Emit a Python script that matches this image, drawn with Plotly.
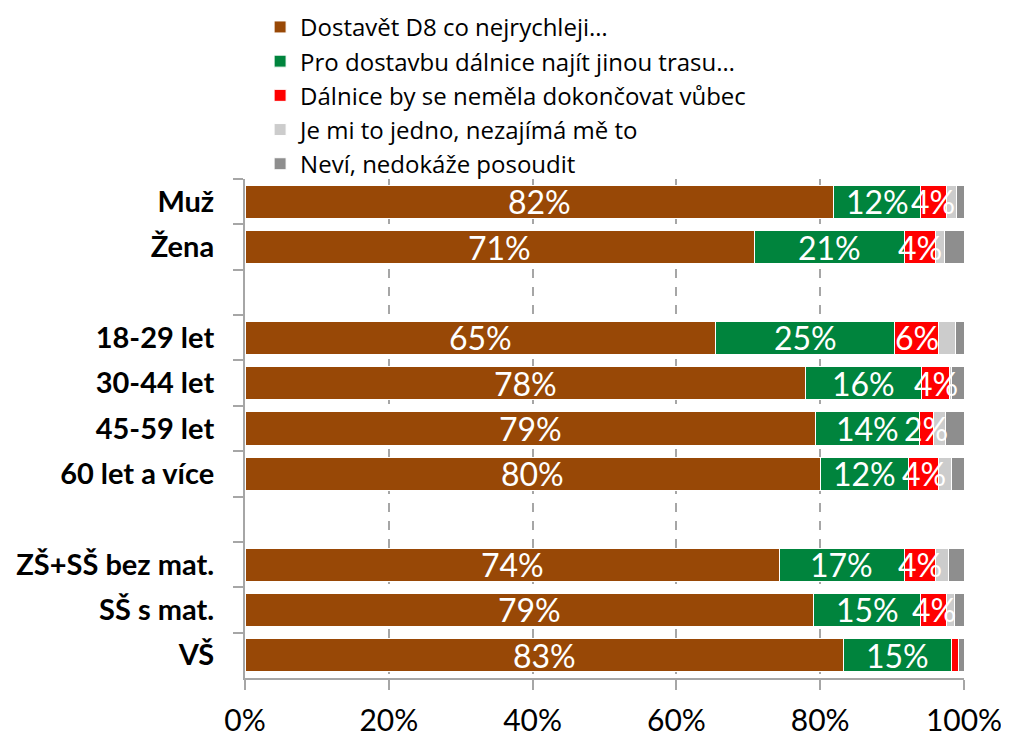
import plotly.graph_objects as go

categories = ["Muž", "Žena", " ", "18-29 let", "30-44 let", "45-59 let", "60 let a více",
              "  ", "ZŠ+SŠ bez mat.", "SŠ s mat.", "VŠ"]

series_names = ["Dostavět D8 co nejrychleji…",
                "Pro dostavbu dálnice najít jinou trasu…",
                "Dálnice by se neměla dokončovat vůbec",
                "Je mi to jedno, nezajímá mě to",
                "Neví, nedokáže posoudit"]

dostavet = [81.8, 70.9, None, 65.4, 78.0, 79.3, 80.1, None, 74.3, 79.1, 83.2]
jina_trasa = [12.2, 20.8, None, 25.0, 16.1, 14.5, 12.2, None, 17.4, 14.9, 15.1]
nedokoncovat = [3.5, 4.3, None, 6.1, 3.95, 1.9, 4.2, None, 4.4, 3.6, 0.9]
jedno = [1.5, 1.3, None, 2.3, 0.25, 1.7, 1.7, None, 1.7, 1.1, 0.1]
nevi = [1.0, 2.7, None, 1.2, 1.7, 2.6, 1.8, None, 2.2, 1.3, 0.7]

x_ticks = [0, 20, 40, 60, 80, 100]
x_tick_labels = ["0%", "20%", "40%", "60%", "80%", "100%"]

colors = ["#984806", "#00843D", "#FF0000", "#CCCCCC", "#8E8E8E"]

all_series = [dostavet, jina_trasa, nedokoncovat, jedno, nevi]
labelled = [True, True, True, False, False]

FONT = "Lato"

fig = go.Figure()
for name, vals, col in zip(series_names, all_series, colors):
    fig.add_trace(go.Bar(
        y=categories, x=vals, name=name, orientation="h",
        marker=dict(color=col, line=dict(color="white", width=1)),
        hoverinfo="skip",
    ))

# value labels centred in their segments (white, may overflow narrow segments)
for ci, cat in enumerate(categories):
    start = 0.0
    for vals, show in zip(all_series, labelled):
        v = vals[ci]
        if v is None:
            continue
        if show and v >= 1.5:
            fig.add_annotation(x=start + v / 2, y=cat, xref="x", yref="y",
                               text=f"{round(v)}%", showarrow=False,
                               font=dict(family=FONT, size=32, color="white"))
        start += v

fig.update_layout(
    barmode="stack",
    bargap=0.27,
    width=1009, height=741,
    margin=dict(l=237, r=53, t=171, b=71, autoexpand=False),
    plot_bgcolor="white", paper_bgcolor="white",
    font=dict(family=FONT, color="black"),
    legend=dict(
        x=0.021, xanchor="left", y=1.349, yanchor="top",
        traceorder="normal",
        font=dict(family="Open Sans", size=24, color="black"),
        itemclick=False, bgcolor="rgba(0,0,0,0)",
    ),
    showlegend=True,
)

fig.update_xaxes(
    range=[0, 100], tickvals=x_ticks, ticktext=x_tick_labels,
    showgrid=True, gridcolor="#A6A6A6", griddash="dash", gridwidth=1.5,
    showline=True, linecolor="#A6A6A6", linewidth=2,
    ticks="outside", ticklen=10, tickcolor="#A6A6A6", tickwidth=2,
    tickfont=dict(family=FONT, size=30, color="black"),
    ticklabelstandoff=5, zeroline=False, fixedrange=True, automargin=False,
)
fig.update_yaxes(
    categoryorder="array", categoryarray=categories, autorange="reversed",
    showline=True, linecolor="#A6A6A6", linewidth=2,
    ticks="outside", ticklen=10, tickcolor="#A6A6A6", tickwidth=2,
    tickson="boundaries",
    tickfont=dict(family=FONT, size=29, color="black", weight="bold"),
    ticklabelstandoff=23, showgrid=False, fixedrange=True, automargin=False,
)

fig.write_html("out.html")
